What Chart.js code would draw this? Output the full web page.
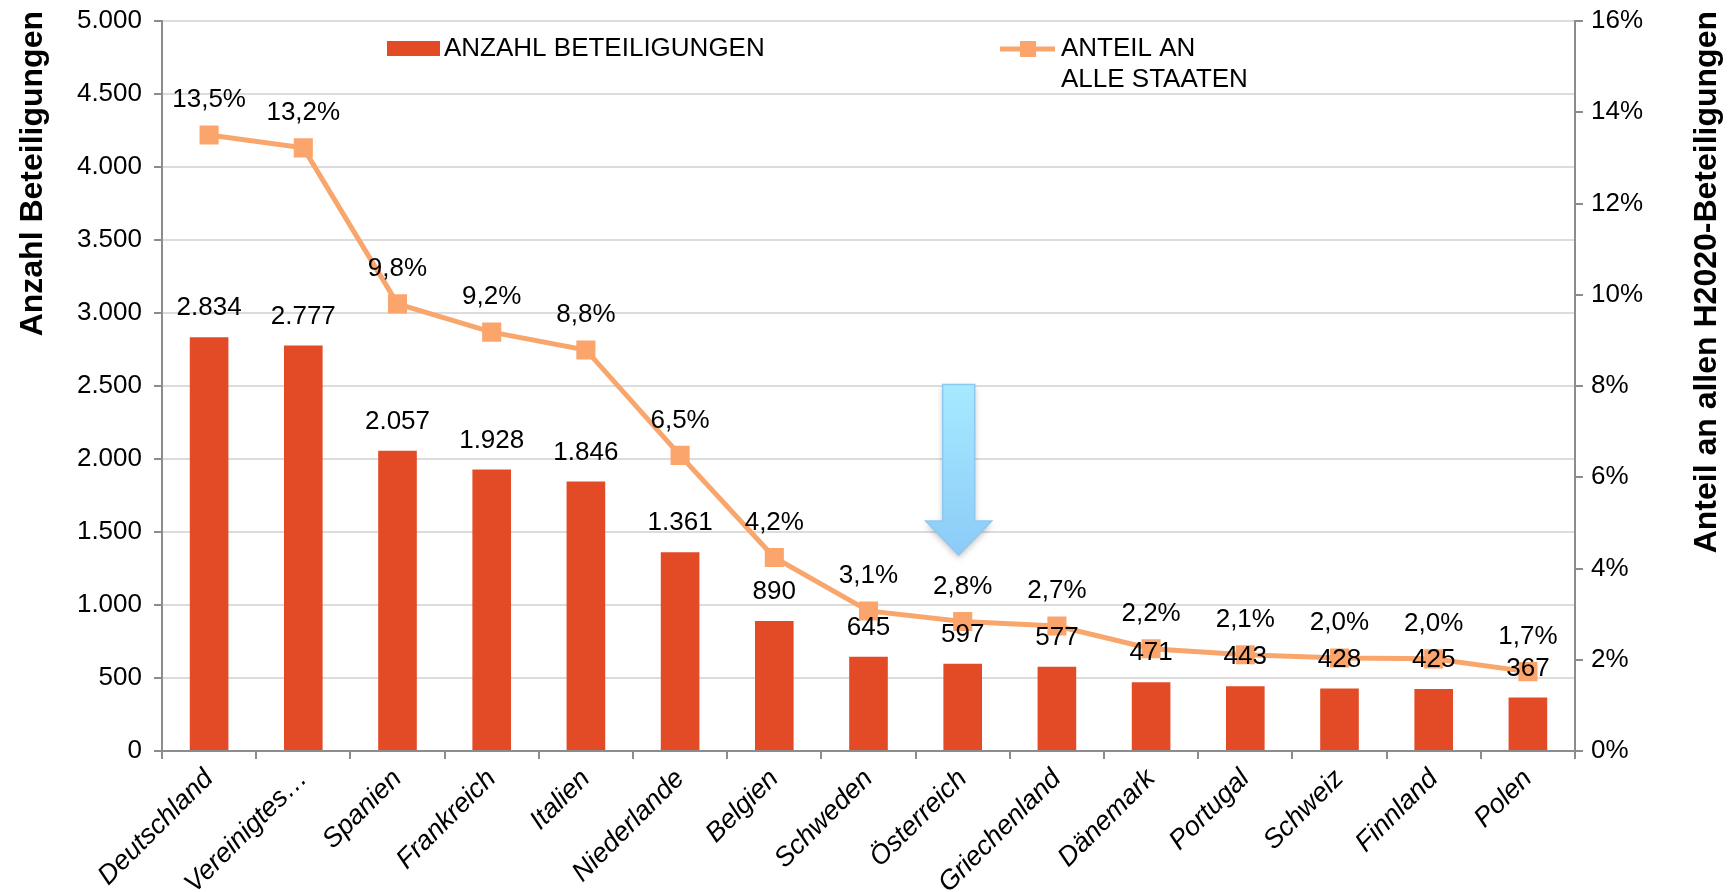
<!DOCTYPE html>
<html lang="de">
<head>
<meta charset="utf-8">
<title>H2020-Beteiligungen</title>
<script src="https://cdn.jsdelivr.net/npm/chart.js@4.4.0/dist/chart.umd.min.js"></script>
<style>
  html, body { margin: 0; padding: 0; background: #fff; }
  canvas { display: block; }
</style>
</head>
<body>
<canvas id="h2020Chart" width="1733" height="892"></canvas>
<script>
// Daten
const countries = ['Deutschland', 'Vereinigtes…', 'Spanien', 'Frankreich', 'Italien', 'Niederlande',
  'Belgien', 'Schweden', 'Österreich', 'Griechenland', 'Dänemark', 'Portugal', 'Schweiz', 'Finnland', 'Polen'];
const participations = [2834, 2777, 2057, 1928, 1846, 1361, 890, 645, 597, 577, 471, 443, 428, 425, 367];
const shareOfAll = [13.50, 13.22, 9.80, 9.18, 8.79, 6.48, 4.24, 3.07, 2.84, 2.74, 2.24, 2.11, 2.04, 2.02, 1.74];

const leftMax = 5000, leftStep = 500;
const rightMax = 16, rightStep = 2;

// Pfeil über Österreich (in Werten der linken Achse)
const arrowCategory = 8;
const arrowFrom = 2510, arrowHeadAt = 1575, arrowTo = 1342;

const fontFamily = "'Liberation Sans', Arial, sans-serif";
const barColor = '#E34A26';
const lineColor = '#F9A66D';
const markerColor = '#FBA46B';
const axisColor = '#8C8C8C';
const gridColor = '#DCDCDC';

const formatThousands = v => String(v).replace(/\B(?=(\d{3})+(?!\d))/g, '.');
const formatPercent = v => v.toFixed(1).replace('.', ',') + '%';

const decorations = {
  id: 'decorations',
  afterDatasetsDraw(chart) {
    const ctx = chart.ctx;
    const x = chart.scales.x;
    const y = chart.scales.y;

    // blauer Pfeil
    const cx = x.getPixelForValue(arrowCategory) - 4;
    const yTop = y.getPixelForValue(arrowFrom);
    const yBase = y.getPixelForValue(arrowHeadAt);
    const yTip = y.getPixelForValue(arrowTo);
    ctx.save();
    const grad = ctx.createLinearGradient(0, yTop, 0, yTip);
    grad.addColorStop(0, '#A6EAFF');
    grad.addColorStop(1, '#8CCBF8');
    ctx.beginPath();
    ctx.moveTo(cx - 16, yTop);
    ctx.lineTo(cx + 16, yTop);
    ctx.lineTo(cx + 16, yBase);
    ctx.lineTo(cx + 33, yBase);
    ctx.lineTo(cx, yTip);
    ctx.lineTo(cx - 33, yBase);
    ctx.lineTo(cx - 16, yBase);
    ctx.closePath();
    ctx.shadowColor = 'rgba(0,0,0,0.25)';
    ctx.shadowBlur = 6;
    ctx.shadowOffsetY = 3;
    ctx.fillStyle = grad;
    ctx.fill();
    ctx.shadowColor = 'transparent';
    ctx.strokeStyle = '#8EC8F2';
    ctx.lineWidth = 1.5;
    ctx.stroke();
    ctx.restore();

    // Datenbeschriftungen
    ctx.save();
    ctx.font = `26px ${fontFamily}`;
    ctx.fillStyle = '#000';
    ctx.textAlign = 'center';
    ctx.textBaseline = 'middle';
    chart.getDatasetMeta(1).data.forEach((pt, i) => {
      ctx.fillText(formatPercent(shareOfAll[i]), pt.x, pt.y - 35);
    });
    chart.getDatasetMeta(0).data.forEach((bar, i) => {
      ctx.fillText(formatThousands(participations[i]), bar.x, bar.y - 29);
    });

    // Legende
    ctx.textAlign = 'left';
    ctx.fillStyle = barColor;
    ctx.fillRect(387, 41, 53, 15);
    ctx.fillStyle = '#000';
    ctx.fillText('ANZAHL BETEILIGUNGEN', 444, 49);
    ctx.strokeStyle = lineColor;
    ctx.lineWidth = 5;
    ctx.beginPath();
    ctx.moveTo(1000, 49);
    ctx.lineTo(1055, 49);
    ctx.stroke();
    ctx.fillStyle = markerColor;
    ctx.fillRect(1020, 41, 16, 16);
    ctx.fillStyle = '#000';
    ctx.fillText('ANTEIL AN', 1061, 49);
    ctx.fillText('ALLE STAATEN', 1061, 80);

    // Achsentitel (beide von unten nach oben)
    ctx.font = `bold 32px ${fontFamily}`;
    ctx.textAlign = 'right';
    [[33, 'Anzahl Beteiligungen'], [1707, 'Anteil an allen H2020-Beteiligungen']].forEach(([tx, text]) => {
      ctx.save();
      ctx.translate(tx, 11);
      ctx.rotate(-Math.PI / 2);
      ctx.fillText(text, 0, 0);
      ctx.restore();
    });
    ctx.restore();
  }
};

const tickFont = { family: fontFamily, size: 26 };

new Chart(document.getElementById('h2020Chart'), {
  type: 'bar',
  data: {
    labels: countries,
    datasets: [
      {
        type: 'bar',
        label: 'ANZAHL BETEILIGUNGEN',
        data: participations,
        yAxisID: 'y',
        backgroundColor: barColor,
        categoryPercentage: 1,
        barPercentage: 0.41,
        order: 2,
      },
      {
        type: 'line',
        label: 'ANTEIL AN ALLE STAATEN',
        data: shareOfAll,
        yAxisID: 'y1',
        borderColor: lineColor,
        borderWidth: 5,
        pointStyle: 'rect',
        pointRadius: 13.5,
        pointBackgroundColor: markerColor,
        pointBorderColor: markerColor,
        pointBorderWidth: 0,
        tension: 0,
        order: 1,
      },
    ],
  },
  options: {
    responsive: false,
    animation: false,
    layout: { padding: { top: 21, left: 0, right: 0, bottom: 0 } },
    plugins: {
      legend: { display: false },
      tooltip: { enabled: false },
    },
    scales: {
      x: {
        grid: { drawOnChartArea: false, tickLength: 8, color: axisColor, lineWidth: 2 },
        border: { color: axisColor, width: 2 },
        ticks: {
          color: '#000',
          font: { family: fontFamily, size: 27, style: 'italic' },
          minRotation: 45,
          maxRotation: 45,
          autoSkip: false,
          padding: 4,
        },
        afterFit: s => { s.height = 141; },
      },
      y: {
        position: 'left',
        min: 0,
        max: leftMax,
        ticks: { stepSize: leftStep, callback: formatThousands, color: '#000', font: tickFont, padding: 12 },
        grid: { color: gridColor, lineWidth: 2, tickColor: axisColor, tickLength: 8 },
        border: { color: axisColor, width: 2 },
        afterFit: s => { s.width = 162; s.paddingTop = 0; s.paddingBottom = 0; },
      },
      y1: {
        position: 'right',
        min: 0,
        max: rightMax,
        ticks: { stepSize: rightStep, callback: v => v + '%', color: '#000', font: tickFont, padding: 8 },
        grid: { drawOnChartArea: false, color: axisColor, lineWidth: 2, tickLength: 8 },
        border: { color: axisColor, width: 2 },
        afterFit: s => { s.width = 158; s.paddingTop = 0; s.paddingBottom = 0; },
      },
    },
  },
  plugins: [decorations],
});
</script>
</body>
</html>
